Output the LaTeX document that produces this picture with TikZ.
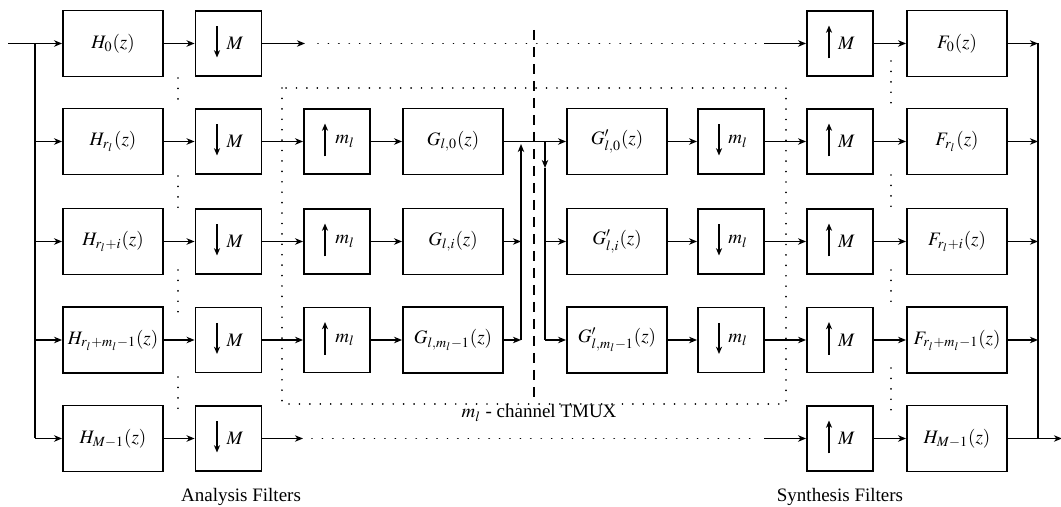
\documentclass[tikz,border=0pt]{standalone}
\usepackage{mathptmx}
\usepackage[no-math]{fontspec}
\setmainfont{Liberation Serif}
\usetikzlibrary{arrows.meta}
\begin{document}
\begin{tikzpicture}[x=0.5pt,y=-0.5pt,
  every node/.style={font=\fontsize{9.5}{11}\selectfont},
  bigbox/.style={draw,line width=0.9pt,minimum width=50pt,minimum height=33pt,inner sep=0pt},
  smallbox/.style={draw,line width=0.9pt,minimum width=33pt,minimum height=32.5pt,inner sep=0pt},
  arr/.style={line width=0.9pt,-{Stealth[length=4pt,width=3.2pt,inset=1.2pt]}},
  inarr/.style={line width=0.8pt,-{Stealth[length=3.6pt,width=3pt,inset=1pt]}},
  ln/.style={line width=0.9pt},
  mydots/.style={line width=0.9pt,line cap=round,dash pattern=on 0.01pt off 5.2pt},
  mydash/.style={line width=0.9pt,dash pattern=on 5pt off 3.5pt},
  lbl/.style={font=\fontsize{9.5}{11}\selectfont,anchor=base}]
\useasboundingbox (0,0) rectangle (1061,507);
% ---- row 0
\node[bigbox] (H0) at (113,43.5) {$H_0(z)$};
\node[smallbox] (D0) at (228.5,43.5) {\hspace*{6.5pt}$M$};
\node[smallbox] (U0) at (840,43.5) {\hspace*{6.5pt}$M$};
\node[bigbox] (F0) at (957,43.5) {$F_0(z)$};
% ---- row 1
\node[bigbox] (H1) at (113,141.5) {$H_{r_l}(z)$};
\node[smallbox] (D1) at (228.5,141.5) {\hspace*{6.5pt}$M$};
\node[smallbox] (u1) at (337,141.5) {\hspace*{8pt}$m_l$};
\node[bigbox] (G1) at (453,141.5) {$G_{l,0}(z)$};
\node[bigbox] (Gp1) at (617,141.5) {$G'_{l,0}(z)$};
\node[smallbox] (d1) at (731,141.5) {\hspace*{7pt}$m_l$};
\node[smallbox] (U1) at (840,141.5) {\hspace*{6.5pt}$M$};
\node[bigbox] (F1) at (957,141.5) {$F_{r_l}(z)$};
% ---- row 2
\node[bigbox] (H2) at (113,241.5) {$H_{r_l+i}(z)$};
\node[smallbox] (D2) at (228.5,241.5) {\hspace*{6.5pt}$M$};
\node[smallbox] (u2) at (337,241.5) {\hspace*{8pt}$m_l$};
\node[bigbox] (G2) at (453,241.5) {$G_{l,i}(z)$};
\node[bigbox] (Gp2) at (617,241.5) {$G'_{l,i}(z)$};
\node[smallbox] (d2) at (731,241.5) {\hspace*{7pt}$m_l$};
\node[smallbox] (U2) at (840,241.5) {\hspace*{6.5pt}$M$};
\node[bigbox] (F2) at (957,241.5) {$F_{r_l+i}(z)$};
% ---- row 3
\node[bigbox] (H3) at (113,340) {$H_{r_l+m_l-1}(z)$};
\node[smallbox] (D3) at (228.5,340) {\hspace*{6.5pt}$M$};
\node[smallbox] (u3) at (337,340) {\hspace*{8pt}$m_l$};
\node[bigbox] (G3) at (453,340) {$G_{l,m_l-1}(z)$};
\node[bigbox] (Gp3) at (617,340) {$G'_{l,m_l-1}(z)$};
\node[smallbox] (d3) at (731,340) {\hspace*{7pt}$m_l$};
\node[smallbox] (U3) at (840,340) {\hspace*{6.5pt}$M$};
\node[bigbox] (F3) at (957,340) {$F_{r_l+m_l-1}(z)$};
% ---- row 4
\node[bigbox] (H4) at (113,438.5) {$H_{M-1}(z)$};
\node[smallbox] (D4) at (228.5,438.5) {\hspace*{6.5pt}$M$};
\node[smallbox] (U4) at (840,438.5) {\hspace*{6.5pt}$M$};
\node[bigbox] (F4) at (957,438.5) {$H_{M-1}(z)$};
% ---- arrows inside the rate-change boxes
\foreach \n in {D0,D1,D2,D3,D4} {
  \draw[inarr] ([xshift=-5.75pt,yshift=8.5pt]\n.center) -- ([xshift=-5.75pt,yshift=-7pt]\n.center);
}
\foreach \n in {d1,d2,d3} {
  \draw[inarr] ([xshift=-6pt,yshift=8.5pt]\n.center) -- ([xshift=-6pt,yshift=-7pt]\n.center);
}
\foreach \n in {U0,U1,U2,U3,U4} {
  \draw[inarr] ([xshift=-5.5pt,yshift=-7.5pt]\n.center) -- ([xshift=-5.5pt,yshift=9pt]\n.center);
}
\foreach \n in {u1,u2,u3} {
  \draw[inarr] ([xshift=-6pt,yshift=-7.5pt]\n.center) -- ([xshift=-6pt,yshift=9pt]\n.center);
}
% ---- input bus
\coordinate (in) at (8,43.5);
\coordinate (ib0) at (35,43.5);
\coordinate (ib1) at (35,141.5);
\coordinate (ib2) at (35,241.5);
\coordinate (ib3) at (35,340);
\coordinate (ib4) at (35,438.5);
\draw[arr] (in) -- (H0.west);
\draw[ln] (ib0) -- (ib4);
\foreach \k in {1,2,3,4} {\draw[arr] (ib\k) -- (H\k.west);}
% ---- output bus
\coordinate (ob0) at (1038,43.5);
\coordinate (ob1) at (1038,141.5);
\coordinate (ob2) at (1038,241.5);
\coordinate (ob3) at (1038,340);
\coordinate (ob4) at (1038,438.5);
\coordinate (out) at (1062,438.5);
\draw[ln] (ob0) -- (ob4);
\foreach \k in {0,1,2,3} {\draw[arr] (F\k.east) -- (ob\k);}
\draw[arr] (F4.east) -- (out);
% ---- analysis/synthesis links
\foreach \k in {0,1,2,3,4} {
  \draw[arr] (H\k.east) -- (D\k.west);
  \draw[arr] (U\k.east) -- (F\k.west);
}
\foreach \k in {1,2,3} {
  \draw[arr] (D\k.east) -- (u\k.west);
  \draw[arr] (u\k.east) -- (G\k.west);
  \draw[arr] (Gp\k.east) -- (d\k.west);
  \draw[arr] (d\k.east) -- (U\k.west);
}
% ---- rows 0 and 4: dotted bypass
\coordinate (a0) at (305,43.5);
\coordinate (b0) at (318,43.5);
\coordinate (c0) at (758,43.5);
\coordinate (e0) at (764,43.5);
\draw[arr] (D0.east) -- (a0);
\draw[mydots] (b0) -- (c0);
\draw[arr] (e0) -- (U0.west);
\coordinate (a4) at (303,438.5);
\coordinate (b4) at (312,438.5);
\coordinate (c4) at (758,438.5);
\coordinate (e4) at (764,438.5);
\draw[arr] (D4.east) -- (a4);
\draw[mydots] (b4) -- (c4);
\draw[arr] (e4) -- (U4.west);
% ---- TMUX crossing
\coordinate (x2) at (521,241.5);
\coordinate (x3) at (521,340);
\coordinate (x1) at (521,144);
\coordinate (y1) at (545,141.5);
\coordinate (ym) at (545,168);
\coordinate (y2) at (545,241.5);
\coordinate (y3) at (545,340);
\draw[arr] (G1.east) -- (Gp1.west);
\draw[arr] (G2.east) -- (x2);
\draw[arr] (G3.east) -- (x3);
\draw[arr] (x3) -- (x1);
\draw[arr] (y1) -- (ym);
\draw[ln] (ym) -- (y3);
\draw[arr] (y2) -- (Gp2.west);
\draw[arr] (y3) -- (Gp3.west);
% ---- dashed divider
\coordinate (dv1) at (534,30);
\coordinate (dv2) at (534,402);
\draw[mydash] (dv1) -- (dv2);
% ---- TMUX dotted frame
\draw[mydots] (282,88) rectangle (786,404);
\node[lbl] (tmux) at (539,418) {$m_l$ - channel TMUX};
% ---- vertical dotted continuation marks
\foreach \ya/\yb in {78/106, 176/212, 270/313, 377/413} {
  \draw[mydots] (178,\ya) -- (178,\yb);
}
\foreach \ya/\yb in {61/104, 175/214, 270/309, 368/412} {
  \draw[mydots] (891,\ya) -- (891,\yb);
}
% ---- captions
\node[lbl] (ana) at (241,502) {Analysis Filters};
\node[lbl] (syn) at (840,502) {Synthesis Filters};
\end{tikzpicture}
\end{document}
